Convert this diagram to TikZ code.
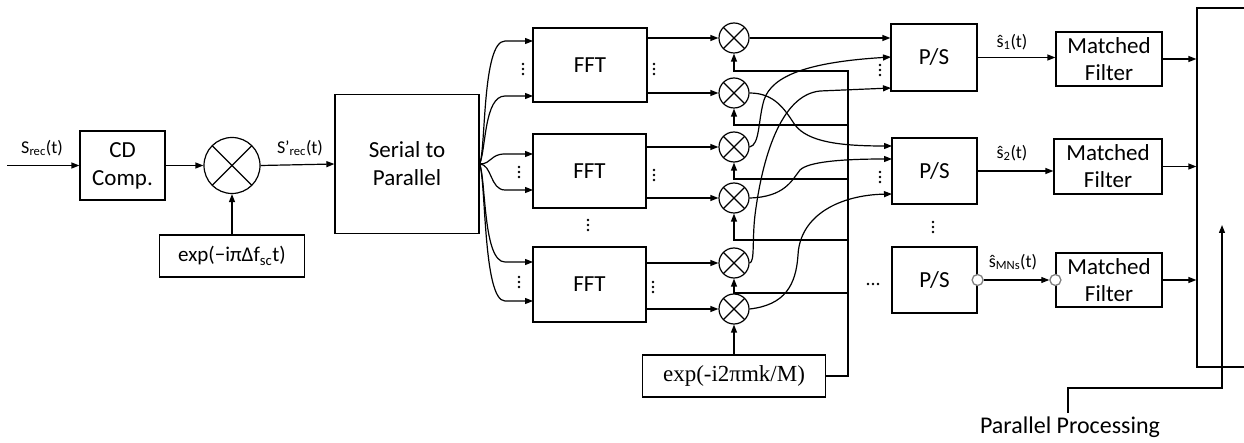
\documentclass[tikz,border=0pt]{standalone}
\usepackage{fontspec}
\setmainfont{Carlito}
\newfontfamily\tnr{Liberation Serif}
\usetikzlibrary{arrows.meta}
\begin{document}
\begin{tikzpicture}[x=1pt,y=-1pt,
  every node/.style={inner sep=0pt},
  blk/.style={draw, line width=1.2pt, align=center, font=\fontsize{23}{28}\selectfont},
  mult/.style={circle, draw, line width=1.2pt, minimum size=30pt,
    path picture={\draw[line width=1.2pt] (path picture bounding box.north west)--(path picture bounding box.south east)
      (path picture bounding box.north east)--(path picture bounding box.south west);}},
  wire/.style={line width=1.2pt},
  arr/.style={wire, -{Triangle[length=8pt,width=6pt]}},
  lbl/.style={font=\fontsize{18}{20}\selectfont},
  port/.style={circle, draw=gray, line width=1.3pt, fill=white, minimum size=11pt},
  vd/.pic={\fill (0,-5) circle (1.3) (0,0) circle (1.3) (0,5) circle (1.3);},
  hd/.pic={\fill (-5,0) circle (1.3) (0,0) circle (1.3) (5,0) circle (1.3);},
]
\useasboundingbox (0,0) rectangle (1244,443);
\clip (0,0) rectangle (1244,443);

% front end
\coordinate (in0) at (7,165.5);
\node[blk, minimum width=85pt, minimum height=69pt] (cd) at (122.5,165.5) {CD\\Comp.};
\node[mult, minimum size=56pt] (m0) at (232,165.5) {};
\node[blk, minimum width=145pt, minimum height=42pt, font=\fontsize{21}{24}\selectfont] (ea) at (232,256) {exp(−iπΔf\textsubscript{sc}t)};
\node[blk, minimum width=144pt, minimum height=139pt] (sp) at (407,164) {Serial to\\Parallel};
\node[lbl] (lin) at (42,148) {S\textsubscript{rec}(t)};
\node[lbl] (lsp) at (300,148) {S’\textsubscript{rec}(t)};

\draw[arr] (in0) -- (cd.west);
\draw[arr] (cd.east) -- (m0.west);
\draw[arr] (ea.north) -- (m0.south);
\draw[arr] (m0.east) -- (sp.west);

% FFT blocks
\node[blk, minimum width=114pt, minimum height=74pt] (fft1) at (590,65) {FFT};
\node[blk, minimum width=113pt, minimum height=74pt] (fft2) at (589.5,171) {FFT};
\node[blk, minimum width=113pt, minimum height=75pt] (fft3) at (589.5,284.5) {FFT};

\coordinate (f1a) at (533,41);  \coordinate (f1b) at (533,96);
\coordinate (f2a) at (533,154); \coordinate (f2b) at (533,190);
\coordinate (f3a) at (533,262); \coordinate (f3b) at (533,301);

\draw[arr] (sp.east) .. controls (486,150) and (482,41) .. (505,41) -- (f1a);
\draw[arr] (sp.east) .. controls (486,150) and (484,96) .. (505,96) -- (f1b);
\draw[arr] (sp.east) .. controls (492,164) and (490,154) .. (505,154) -- (f2a);
\draw[arr] (sp.east) .. controls (492,164) and (490,190) .. (505,190) -- (f2b);
\draw[arr] (sp.east) .. controls (486,180) and (483,262) .. (505,262) -- (f3a);
\draw[arr] (sp.east) .. controls (486,180) and (483,301) .. (505,301) -- (f3b);

% multipliers
\node[mult] (m1) at (734,38) {};
\node[mult] (m2) at (734,93) {};
\node[mult] (m3) at (734,147) {};
\node[mult] (m4) at (734,198) {};
\node[mult] (m5) at (734,263) {};
\node[mult] (m6) at (734,309) {};

\draw[arr] (fft1.east |- m1) -- (m1.west);
\draw[arr] (fft1.east |- m2) -- (m2.west);
\draw[arr] (fft2.east |- m3) -- (m3.west);
\draw[arr] (fft2.east |- m4) -- (m4.west);
\draw[arr] (fft3.east |- m5) -- (m5.west);
\draw[arr] (fft3.east |- m6) -- (m6.west);

% twiddle factor bus
\node[blk, minimum width=183pt, minimum height=42pt, font=\tnr\fontsize{23}{25}\selectfont] (eb) at (734,376) {exp(-i2πmk/M)};
\coordinate (b1) at (848,71);
\coordinate (b2) at (848,125);
\coordinate (b3) at (848,179);
\coordinate (b4) at (848,240);
\coordinate (b5) at (848,293);
\draw[arr] (eb.east) -| (b1) -| (m1.south);
\draw[arr] (b2) -| (m2.south);
\draw[arr] (b3) -| (m3.south);
\draw[arr] (b4) -| (m4.south);
\draw[arr] (b5) -| (m5.south);
\draw[arr] (eb.north) -- (m6.south);

% P/S blocks
\node[blk, minimum width=86pt, minimum height=67pt] (ps1) at (934,57.5) {P/S};
\node[blk, minimum width=85pt, minimum height=66pt] (ps2) at (934.5,171) {P/S};
\node[blk, minimum width=85pt, minimum height=66pt] (ps3) at (934.5,280) {P/S};

\coordinate (p1b) at (891,57);  \coordinate (p1c) at (891,88);
\coordinate (p2a) at (892,146); \coordinate (p2b) at (892,159); \coordinate (p2c) at (892,194);

\draw[arr] (m1.east) -- (ps1.west |- m1.east);
\draw[arr] (m3.east) .. controls (760,145) and (758,120) .. (764,100) .. controls (772,75) and (810,62) .. (p1b);
\draw[arr] (m5.east) .. controls (755,262) and (752,240) .. (755,215) .. controls (762,160) and (780,95) .. (820,91) -- (p1c);
\draw[arr] (m2.east) .. controls (775,93) and (785,110) .. (795,125) .. controls (808,142) and (840,146) .. (p2a);
\draw[arr] (m4.east) .. controls (785,197) and (792,180) .. (800,170) .. controls (808,162) and (840,159) .. (p2b);
\draw[arr] (m6.east) .. controls (785,305) and (796,285) .. (798,255) .. controls (800,215) and (840,195) .. (p2c);

% matched filters
\node[blk, minimum width=106pt, minimum height=54pt, font=\fontsize{23}{27}\selectfont] (mf1) at (1109,59) {Matched\\Filter};
\node[blk, minimum width=108pt, minimum height=55pt, font=\fontsize{23}{27}\selectfont] (mf2) at (1108,166.5) {Matched\\Filter};
\node[blk, minimum width=106pt, minimum height=54pt, font=\fontsize{23}{27}\selectfont] (mf3) at (1109,280) {Matched\\Filter};

\node[lbl] (l1) at (1012,42) {ŝ\textsubscript{1}(t)};
\node[lbl] (l2) at (1012,153) {ŝ\textsubscript{2}(t)};
\node[lbl] (l3) at (1013,262) {ŝ\textsubscript{MNs}(t)};

\draw[arr] (ps1.east) -- (mf1.west |- ps1.east);
\draw[arr] (ps2.east) -- (mf2.west |- ps2.east);
\node[port] (c1) at (ps3.east) {};
\node[port] (c2) at (mf3.west) {};
\draw[arr] (c1) -- (c2);

% parallel processing block
\node[draw, line width=1.2pt, minimum width=120pt, minimum height=359pt] (pp) at (1257,187.5) {};
\draw[arr] (mf1.east) -- (mf1.east -| pp.west);
\draw[arr] (mf2.east) -- (mf2.east -| pp.west);
\draw[arr] (mf3.east) -- (mf3.east -| pp.west);

\node[font=\fontsize{24}{26}\selectfont] (ppt) at (1070,427) {Parallel Processing};
\coordinate (pp0) at (1068,413);
\coordinate (pp1) at (1222,388);
\coordinate (pp2) at (1222,225);
\draw[arr] (pp0) |- (pp1) -- (pp2);

% ellipsis dots
\pic at (523,69) {vd};
\pic at (519,172) {vd};
\pic at (519,282) {vd};
\pic at (654,69) {vd};
\pic at (654,175) {vd};
\pic at (653,287) {vd};
\pic at (588,225) {vd};
\pic at (933,227) {vd};
\pic at (880,70) {vd};
\pic at (880,177) {vd};
\pic at (873,284) {hd};
\end{tikzpicture}
\end{document}
